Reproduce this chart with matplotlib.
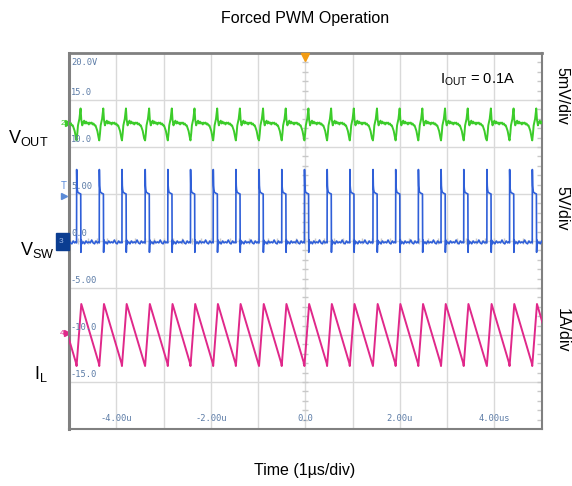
import matplotlib
matplotlib.use("Agg")
import matplotlib.pyplot as plt
import numpy as np

plt.rcParams['font.family'] = ['Liberation Sans', 'DejaVu Sans']
plt.rcParams['mathtext.fontset'] = 'custom'
plt.rcParams['mathtext.rm'] = 'Liberation Sans'
plt.rcParams['mathtext.it'] = 'Liberation Sans'

# ---------------- data ----------------
title = "Forced PWM Operation"
xlabel = "Time (1µs/div)"
x_tick_vals = [-4, -2, 0, 2, 4]
x_tick_labels = ["-4.00u", "-2.00u", "0.0", "2.00u", "4.00us"]
y_tick_vals = [20, 15, 10, 5, 0, -5, -10, -15]
y_tick_labels = ["20.0V", "15.0", "10.0", "5.00", "0.0", "-5.00", "-10.0", "-15.0"]

# switching-cycle start times (µs), read from the rising edges of V_SW
pulse_starts = [-5.32, -4.84, -4.36, -3.88, -3.39, -2.91, -2.43, -1.95, -1.47,
                -0.98, -0.50, -0.02, 0.46, 0.94, 1.43, 1.91, 2.39, 2.87,
                3.35, 3.84, 4.32, 4.80]

# one switching cycle of each trace: time offset within cycle (µs) and level (scope units)
vout_offsets = [0.000, 0.015, 0.030, 0.060, 0.085, 0.100, 0.120, 0.140, 0.160, 0.180,
                0.200, 0.220, 0.240, 0.260, 0.280, 0.300, 0.320, 0.340, 0.360,
                0.380, 0.400, 0.420, 0.440, 0.455, 0.470]
vout_values = [10.7, 11.4, 12.3, 13.0, 14.1, 12.9, 12.3, 12.6, 12.8, 12.5,
               12.7, 12.5, 12.6, 12.4, 12.6, 12.5, 12.6, 12.4, 12.5,
               12.3, 12.3, 12.0, 11.7, 11.3, 10.9]

vsw_offsets = [0.000, 0.002, 0.008, 0.014, 0.025, 0.050, 0.088, 0.092, 0.100, 0.110,
               0.140, 0.170, 0.200, 0.230, 0.260, 0.290, 0.320, 0.350, 0.380,
               0.410, 0.440, 0.465, 0.478]
vsw_values = [-0.2, 7.6, 5.9, 5.5, 5.2, 5.1, 5.0, -1.2, 0.1, -0.3,
              -0.1, -0.3, 0.0, -0.2, -0.1, -0.2, 0.1, -0.2, -0.3,
              0.0, -0.2, -0.1, -0.2]

il_offsets = [0.000, 0.050, 0.100, 0.200, 0.300, 0.400, 0.470]
il_values = [-13.3, -10.0, -6.7, -8.4, -10.1, -11.8, -13.0]

channel_labels = [r"V$_{\rm OUT}$", r"V$_{\rm SW}$", r"I$_{\rm L}$"]
scale_labels = ["5mV/div", "5V/div", "1A/div"]
iout_label = r"I$_{\rm OUT}$ = 0.1A"

# ---------------- build traces ----------------
def build(offsets, values):
    t, v = [], []
    for t0 in pulse_starts:
        for o, val in zip(offsets, values):
            t.append(t0 + o)
            v.append(val)
    return np.array(t), np.array(v)

t_vout, v_vout = build(vout_offsets, vout_values)
t_vsw, v_vsw = build(vsw_offsets, vsw_values)
t_il, v_il = build(il_offsets, il_values)

# ---------------- figure ----------------
fig = plt.figure(figsize=(5.72, 4.86), dpi=100)
ax = fig.add_axes([69/572, 1 - 429/486, (541.7 - 69)/572, (429 - 53)/486])
ax.set_xlim(-5, 5)
ax.set_ylim(-20, 20)

grid_c = "#d9d9d9"
for gx in np.arange(-4, 5, 1):
    ax.axvline(gx, color=grid_c, lw=1.0, zorder=1)
for gy in np.arange(-15, 20, 5):
    ax.axhline(gy, color=grid_c, lw=1.0, zorder=1)

# minor ticks on centre lines and right border
mt = np.arange(-20, 20.01, 1.0)
ax.plot(np.zeros_like(mt), mt, ls="none", marker="_", ms=4, color="#c8c8c8", zorder=1)
ax.plot(np.full_like(mt, 4.97), mt, ls="none", marker="_", ms=4, color="#c8c8c8", zorder=1)
mx = np.arange(-5, 5.01, 0.2)
ax.plot(mx, np.zeros_like(mx), ls="none", marker="|", ms=4, color="#c8c8c8", zorder=1)

ax.set_xticks([])
ax.set_yticks([])
for s in ax.spines.values():
    s.set_color("#808080")
    s.set_linewidth(1.5)
ax.spines['left'].set_linewidth(2.2)
ax.spines['top'].set_linewidth(2.0)

# traces
ax.plot(t_vout, v_vout, color="#3ccc2a", lw=1.4, zorder=3)
ax.plot(t_vsw, v_vsw, color="#2f5fd8", lw=1.2, zorder=3)
ax.plot(t_il, v_il, color="#e0288a", lw=1.4, zorder=3)

# scope tick labels inside the graticule
lab_c = "#5b7ba6"
for val, lab in zip(y_tick_vals, y_tick_labels):
    yy = val - 1.0 if val == 20 else val + 0.3
    ax.text(-4.96, yy, lab, fontsize=6.3, color=lab_c, family="DejaVu Sans Mono",
            va="bottom" if val != 20 else "center", ha="left", zorder=4)
for val, lab in zip(x_tick_vals, x_tick_labels):
    ax.text(val, -19.4, lab, fontsize=6.3, color=lab_c, family="DejaVu Sans Mono",
            ha="center", va="bottom", zorder=4)

# channel markers
ax.text(-5.12, 12.5, "2", color="#3ccc2a", fontsize=6, ha="center", va="center", clip_on=False)
ax.plot([-5.03], [12.5], marker=">", ms=4, color="#3ccc2a", clip_on=False)
ax.text(-5.12, 5.8, "T", color="#5b8bd8", fontsize=7, ha="center", va="center", clip_on=False)
ax.plot([-5.10], [4.8], marker=">", ms=4, color="#5b8bd8", clip_on=False)
ax.add_patch(plt.Rectangle((-5.28, -1.0), 0.28, 1.8, color="#0b3d91", clip_on=False, zorder=5))
ax.text(-5.16, -0.1, "3", color="#9fb8e8", fontsize=6, ha="center", va="center", clip_on=False, zorder=6)
ax.text(-5.15, -9.8, "4", color="#e0288a", fontsize=6, ha="center", va="center", clip_on=False)
ax.plot([-5.05], [-9.8], marker=">", ms=4, color="#e0288a", clip_on=False)
ax.plot([0], [19.6], marker="v", ms=6, color="#f39c12", clip_on=False, zorder=6)

# texts
fig.text(305/572, 1 - 18/486, title, fontsize=11.5, ha="center", va="center")
fig.text(305/572, 1 - 470/486, xlabel, fontsize=11.5, ha="center", va="center")
fig.text(8/572, 1 - 138/486, channel_labels[0], fontsize=13, ha="left", va="center")
fig.text(20/572, 1 - 250/486, channel_labels[1], fontsize=13, ha="left", va="center")
fig.text(34/572, 1 - 374/486, channel_labels[2], fontsize=13, ha="left", va="center")
for lab, yy in zip(scale_labels, [96, 208, 330]):
    fig.text(562/572, 1 - yy/486, lab, fontsize=11.5, ha="center", va="center", rotation=270)
fig.text(477/572, 1 - 80/486, iout_label, fontsize=10.5, ha="center", va="center")

fig.savefig("out.png", dpi=100)
